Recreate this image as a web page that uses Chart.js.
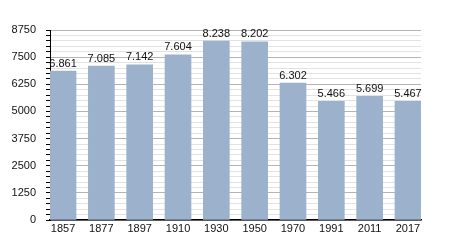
<!DOCTYPE html>
<html>
<head>
<meta charset="utf-8">
<script src="https://cdn.jsdelivr.net/npm/chart.js@4"></script>
<style>
  html, body { margin: 0; padding: 0; background: #fff; }
  #wrap { width: 450px; height: 250px; }
</style>
</head>
<body>
<div id="wrap"><canvas id="myChart" width="450" height="250"></canvas></div>
<script>
const years = ["1857", "1877", "1897", "1910", "1930", "1950", "1970", "1991", "2011", "2017"];
const population = [6861, 7085, 7142, 7604, 8238, 8202, 6302, 5466, 5699, 5467];
const yMax = 8750;
const yMajorStep = 1250;
const yMinorStep = 250;

function formatNumber(v) {
    return String(v).replace(/\B(?=(\d{3})+(?!\d))/g, ".");
}

// values written above each bar
const barLabels = {
    id: "barLabels",
    afterDatasetsDraw(chart) {
        const ctx = chart.ctx;
        const meta = chart.getDatasetMeta(0);
        ctx.save();
        ctx.font = "11px 'Liberation Sans', Arial, sans-serif";
        ctx.fillStyle = "#111";
        ctx.textAlign = "center";
        ctx.textBaseline = "bottom";
        meta.data.forEach(function(bar, i) {
            ctx.fillText(formatNumber(population[i]), bar.x, bar.y - 2);
        });
        ctx.restore();
    }
};

const data = {
    datasets: [{
        data: population.map(function(v, i) { return { x: i, y: v }; }),
        backgroundColor: "#9bb1cc",
        barThickness: 26
    }]
};

const config = {
    type: "bar",
    data,
    plugins: [barLabels],
    options: {
        responsive: false,
        animation: false,
        layout: { padding: { top: 30, right: 29, left: 0, bottom: 0 } },
        plugins: { legend: { display: false }, tooltip: { enabled: false } },
        scales: {
            x: {
                type: "linear",
                offset: false,
                min: -0.34,
                max: years.length - 1 + 0.34,
                afterFit: function(scale) { scale.height = 30; },
                grid: { display: false, tickLength: 0 },
                border: { display: true, color: "#000", width: 1.5 },
                ticks: {
                    stepSize: 1,
                    includeBounds: false,
                    autoSkip: false,
                    maxRotation: 0,
                    padding: 2,
                    color: "#111",
                    font: { family: "'Liberation Sans', Arial, sans-serif", size: 11 },
                    callback: function(v) { return years[v]; }
                }
            },
            y: {
                min: 0,
                max: yMax,
                afterFit: function(scale) { scale.width = 50; },
                border: { display: true, color: "#000", width: 1 },
                grid: {
                    color: function(c) { return c.tick && c.tick.value % yMajorStep === 0 ? "#b4b4b4" : "#e2e2e2"; },
                    tickColor: "#000",
                    tickLength: 4
                },
                ticks: {
                    stepSize: yMinorStep,
                    autoSkip: false,
                    padding: 10,
                    color: "#111",
                    font: { family: "'Liberation Sans', Arial, sans-serif", size: 11 },
                    callback: function(v) { return v % yMajorStep === 0 ? String(v) : ""; }
                }
            }
        }
    }
};

new Chart(document.getElementById("myChart"), config);
</script>
</body>
</html>
